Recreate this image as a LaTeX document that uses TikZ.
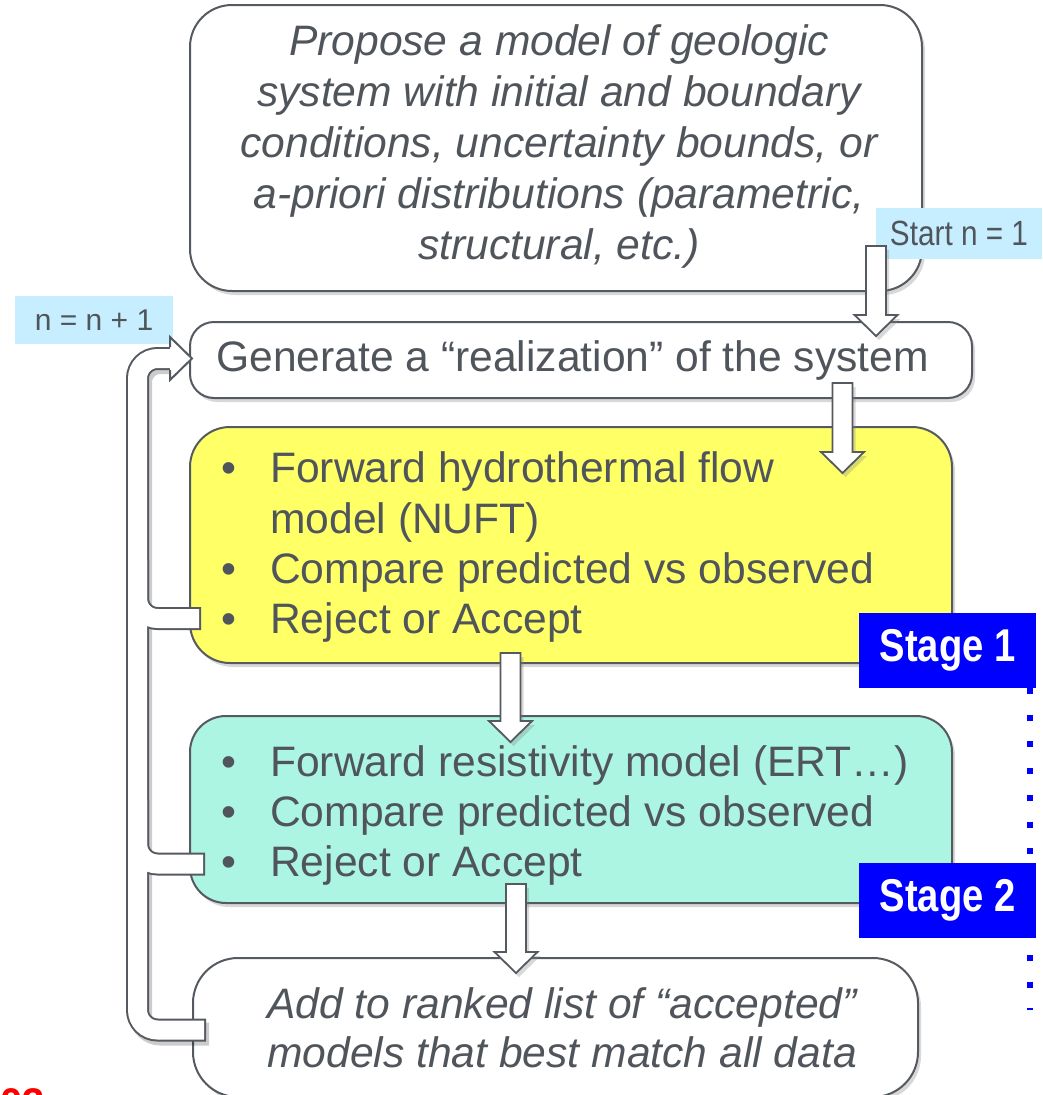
\documentclass[tikz,border=0pt]{standalone}
\usepackage{fontspec}
\setmainfont{Liberation Sans}
\newfontfamily\narrowfont[FakeStretch=0.85]{Liberation Sans}
\newfontfamily\stagefont[FakeStretch=0.83]{Liberation Sans Bold}
\usetikzlibrary{shadows,calc}
\definecolor{txt}{RGB}{80,85,92}
\definecolor{edge}{RGB}{85,90,96}
\definecolor{yel}{RGB}{255,255,102}
\definecolor{aqua}{RGB}{172,245,226}
\definecolor{lbl}{RGB}{198,238,255}
\definecolor{stg}{RGB}{0,0,255}
\newcommand\blockarr[2]{%
  \filldraw[barrow] ($(#1)+(-10,0)$) -- ($(#1)+(10,0)$) -- ($(#2)+(10,-21)$) -- ($(#2)+(21.5,-21)$) -- (#2) -- ($(#2)+(-21.5,-21)$) -- ($(#2)+(-10,-21)$) -- cycle;}
\begin{document}
\begin{tikzpicture}[x=1pt,y=-1pt,
  box/.style={draw=edge, line width=2pt, rounded corners=#1, inner sep=0pt,
    drop shadow={shadow xshift=3pt, shadow yshift=-4pt, opacity=0.3}},
  txtf/.style={font=\fontsize{42.6}{51}\selectfont, text=txt, inner sep=0pt},
  itx/.style={font=\fontsize{42.6}{51}\selectfont\itshape, text=txt, inner sep=0pt},
  barrow/.style={fill=white, draw=edge, line width=1.8pt, line join=miter,
    drop shadow={shadow xshift=3pt, shadow yshift=-4pt, opacity=0.3}},
  lblbox/.style={fill=lbl, text=txt, inner sep=0pt},
  stagebox/.style={fill=stg, text=white, inner sep=0pt, minimum width=177pt, minimum height=75pt,
    font={\fontsize{46}{50}\selectfont\stagefont}},
]
\useasboundingbox (0,0) rectangle (1042,1095);
\clip (0,0) rectangle (1042,1095);
\fill[white] (0,0) rectangle (1042,1095);

% boxes
\node[box=42pt, fill=white, minimum width=732pt, minimum height=286pt] (top) at (556,148) {};
\node[box=24pt, fill=white, minimum width=782pt, minimum height=76pt] (gen) at (581,360) {};
\node[box=40pt, fill=yel, minimum width=762pt, minimum height=236pt] (yel) at (571,545) {};
\node[box=36pt, fill=aqua, minimum width=762pt, minimum height=187pt] (aq) at (571,809.5) {};
\node[box=45pt, fill=white, minimum width=725pt, minimum height=139pt] (bot) at (555.5,1027.5) {};

% top box text
\node[itx, anchor=base] (p1) at (559,55) {Propose a model of geologic};
\node[itx, anchor=base] (p2) at (559,106) {system with initial and boundary};
\node[itx, anchor=base] (p3) at (559,157) {conditions, uncertainty bounds, or};
\node[itx, anchor=base] (p4) at (559,208) {a-priori distributions (parametric,};
\node[itx, anchor=base] (p5) at (559,259) {structural, etc.)};

% generate text
\node[txtf, anchor=base west] (g1) at (216,371) {Generate a “realization” of the system};

% yellow text
\node[txtf, anchor=base] (yb1) at (229,482) {•};
\node[txtf, anchor=base west] (y1) at (270,482) {Forward hydrothermal flow};
\node[txtf, anchor=base west] (y2) at (270,533) {model (NUFT)};
\node[txtf, anchor=base] (yb3) at (229,583) {•};
\node[txtf, anchor=base west] (y3) at (270,583) {Compare predicted vs observed};
\node[txtf, anchor=base] (yb4) at (229,633) {•};
\node[txtf, anchor=base west] (y4) at (270,633) {Reject or Accept};

% aqua text
\node[txtf, anchor=base] (ab1) at (229,776) {•};
\node[txtf, anchor=base west] (a1) at (270,776) {Forward resistivity model (ERT…)};
\node[txtf, anchor=base] (ab2) at (229,826) {•};
\node[txtf, anchor=base west] (a2) at (270,826) {Compare predicted vs observed};
\node[txtf, anchor=base] (ab3) at (229,876) {•};
\node[txtf, anchor=base west] (a3) at (270,876) {Reject or Accept};

% bottom text
\node[itx, anchor=base] (b1) at (562,1018) {Add to ranked list of “accepted”};
\node[itx, anchor=base] (b2) at (562,1067) {models that best match all data};

% labels
\node[lblbox, minimum width=166pt, minimum height=51pt, font={\fontsize{35}{40}\selectfont\narrowfont}] (start) at (959,233.5) {Start n = 1};
\node[lblbox, minimum width=158pt, minimum height=48pt, font={\fontsize{30}{36}\selectfont}] (inc) at (94,320) {n = n + 1};

% dotted stage line
\coordinate (dtop) at (1030,688);
\coordinate (dbot) at (1030,1010);
\draw[stg, line width=6pt, dash pattern=on 6pt off 20.7pt] (dtop) -- (dbot);

\node[stagebox] (s1) at (947.5,650.5) {Stage 1};
\node[stagebox] (s2) at (947.5,900.5) {Stage 2};

% block arrows
\coordinate (a1s) at (876,246);  \coordinate (a1e) at (876,336);
\coordinate (a2s) at (842.5,383); \coordinate (a2e) at (842.5,473);
\coordinate (a3s) at (510.5,653); \coordinate (a3e) at (510.5,742);
\coordinate (a4s) at (516,884);  \coordinate (a4e) at (516,973);
\blockarr{a1s}{a1e}
\blockarr{a2s}{a2e}
\blockarr{a3s}{a3e}
\blockarr{a4s}{a4e}

% feedback loop
\coordinate (lb) at (206,1030);
\coordinate (ly) at (201,618.5);
\coordinate (lc) at (205,864);
\coordinate (lt) at (137.5,358.5);
\coordinate (lh) at (172,358.5);
\coordinate (lyj) at (137.5,560);
\coordinate (lcj) at (137.5,800);
\begin{scope}[line cap=butt, rounded corners=20pt]
\begin{scope}[transform canvas={shift={(3pt,-4pt)}}]
\draw[black, opacity=0.2, line width=23pt] (lb) -| (lt) -- (lh);
\end{scope}
\draw[edge, line width=23pt] (lb) -| (lt) -- (lh);
\draw[edge, line width=23pt] (ly) -| (lyj);
\draw[edge, line width=23pt] (lc) -| (lcj);
\draw[white, line width=19pt] ($(lb)+(-2,0)$) -| (lt) -- (lh);
\draw[white, line width=19pt] ($(ly)+(-2,0)$) -| (lyj);
\draw[white, line width=19pt] ($(lc)+(-2,0)$) -| (lcj);
\end{scope}
\coordinate (tip) at (192,358.5);
\filldraw[fill=white, draw=edge, line width=2pt, line join=miter] (170,347) -- (170,337) -- (tip) -- (170,380) -- (170,370);

% clipped page number fragment
\node[text=red, font={\fontsize{40}{40}\selectfont\bfseries}, anchor=base west, inner sep=0pt] (pg) at (0,1116) {03};
\end{tikzpicture}
\end{document}
